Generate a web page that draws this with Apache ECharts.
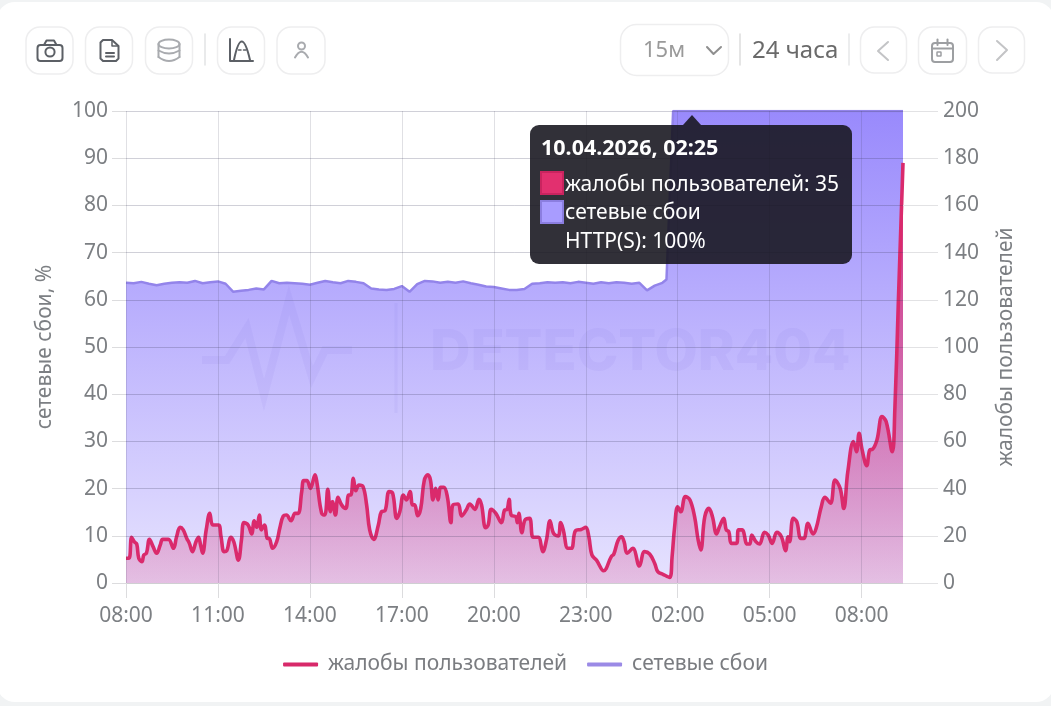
<!DOCTYPE html>
<html><head><meta charset="utf-8">
<style>html,body{margin:0;padding:0;background:#f1f3f4;overflow:hidden}#c{width:1051px;height:706px}</style>
<script src="https://cdn.jsdelivr.net/npm/echarts@6/dist/echarts.min.js"></script>
</head><body><div id="c"></div>
<script>
const tickMinutes=[0,180,360,540,720,900,1080,1260,1440];
const tickLabels=['08:00','11:00','14:00','17:00','20:00','23:00','02:00','05:00','08:00'];
const complaintMinutes=[0,6,11,16,21,25,31,35,40,46,53,60,67,72,83,93,99,106,112,119,124,130,137,142,146,150,157,164,170,181,186,192,197,205,211,220,226,231,239,246,251,256,261,265,271,277,280,287,295,301,308,314,323,331,337,344,348,354,361,370,374,383,389,395,400,404,410,415,422,430,436,440,445,450,456,464,471,477,485,494,500,507,515,522,530,536,543,549,556,561,565,571,577,584,591,596,601,606,611,616,622,629,636,640,650,657,666,673,683,691,696,704,709,715,724,735,741,746,750,754,763,766,769,775,781,790,797,807,816,823,830,837,846,851,856,865,872,880,891,900,906,912,921,935,950,955,963,970,975,981,992,1005,1015,1025,1035,1041,1051,1064,1069,1074,1080,1086,1095,1104,1113,1120,1125,1133,1141,1148,1156,1162,1170,1175,1180,1185,1195,1199,1206,1216,1221,1225,1233,1240,1250,1257,1265,1274,1283,1291,1296,1299,1306,1313,1321,1327,1335,1345,1351,1361,1368,1379,1388,1398,1405,1413,1424,1430,1435,1441,1450,1456,1461,1470,1480,1488,1500,1505,1512,1521];
const complaintValues=[10.5,10.5,19.4,17.5,16.5,10.5,9,11.9,12.6,18.5,15.4,12.6,16.1,18.5,18.5,14.7,19.6,23.6,22.5,18.9,16.8,13.3,17.5,19.4,16.1,12.6,22.5,29.5,24.6,24.6,19.6,13.3,13.6,19.4,17.5,9.7,18.2,25.6,24.6,20.8,26.4,23.6,28.8,22.5,24.6,18.9,18.9,14.7,17.5,23.2,28.4,28.8,26.4,29.5,29.5,38.7,43.4,43.4,40.1,45.8,42.2,29.5,28.8,39.7,30.2,34.5,28.8,36.3,33.1,31.6,37.3,37.3,44.4,39.1,41.5,40.8,33.1,22.5,18.5,24.6,30.2,30.6,38.7,38,27.4,30.2,37.3,35.2,38.7,33.1,33.1,28.5,31.6,43.6,45.8,43.6,35.2,40.1,35.2,40.5,40.5,36.6,25.6,33.1,33.5,28.4,30.9,33.5,31.2,35.5,33.1,23.4,24.6,31.2,29.5,25.6,30.9,31.2,35.5,28.8,28.1,25.6,29.5,21.3,26.7,27.4,19.4,19.4,13.3,18.2,26.4,21,19.9,25.6,22.5,14.7,14.7,22.2,22.7,23.6,19.6,11.9,9.7,5.2,11.2,12.3,17.9,19.6,17.5,12.6,14.7,7.2,13.3,12.3,8.3,4.8,3.7,2.4,11.2,23.9,32.3,30.2,36.6,35.2,28.1,18.2,14,28.1,31.6,28.1,20.8,23.9,27.4,22.5,21.8,16.8,16.8,22.5,22.5,16.5,16.5,20.3,17.5,16.5,21.5,20.3,16.8,21.5,19.6,13.7,19.6,17.5,27.4,26,18.9,18.9,25.3,20.8,23.2,32.3,36.3,33.8,43.6,40.1,31.6,47.2,59.9,55.6,63.4,56.4,49.7,56.4,56.6,60.6,70.5,68.4,55.6,73.3,119.9,178];
const outageMinutes=[0,15,30,45,60,75,90,105,120,135,150,165,180,195,210,225,240,255,270,285,300,315,330,345,360,375,390,405,420,435,450,465,480,495,510,525,540,555,570,585,600,615,630,645,660,675,690,705,720,735,750,765,780,795,810,825,840,855,870,885,900,915,930,945,960,975,990,1005,1020,1035,1050,1058,1071,1105,1521];
const outageValues=[63.6,63.5,63.8,63.4,63.1,63.4,63.6,63.7,63.6,64,63.5,63.7,63.9,63.4,61.7,61.9,62.1,62.4,62.2,64,63.5,63.6,63.5,63.4,63.2,63.6,64,63.7,63.5,64,63.8,63.5,62.4,62.2,62.1,62.3,62.9,61.7,63.3,64,63.9,63.6,63.8,63.6,63.9,63.5,63.2,62.8,62.7,62.4,62.1,62.1,62.3,63.4,63.5,63.7,63.6,63.7,63.5,63.8,63.6,63.4,63.7,63.5,63.7,63.6,63.4,63.6,62,63,63.6,64.3,100,100,100];
const hoverMinute=1105;
const complaintName='жалобы пользователей';
const outageName='сетевые сбои';
const leftName='сетевые сбои, %';
const FONT='"Noto Sans",sans-serif';
const zip=(a,b)=>a.map((x,i)=>[x,b[i]]);
const INK='#5c6066',PALE='#a9abaf',EDGE='#eeeeef';
const stroke=(c,w)=>({fill:'none',stroke:c,lineWidth:w,lineCap:'round',lineJoin:'round'});
const btn=(x,y,w,h,r)=>({type:'rect',silent:true,shape:{x,y,width:w,height:h,r},style:{fill:'#fff',stroke:EDGE,lineWidth:1.5}});
const pl=(p,c,w)=>({type:'polyline',silent:true,shape:{points:p},style:stroke(c,w||2)});
const ln=(a,b,c,d,col,w)=>({type:'line',silent:true,shape:{x1:a,y1:b,x2:c,y2:d},style:stroke(col,w||2)});
const rc=(x,y,w,h,r,col,lw)=>({type:'rect',silent:true,shape:{x,y,width:w,height:h,r},style:stroke(col,lw||2)});
const ci=(x,y,r,col,lw)=>({type:'circle',silent:true,shape:{cx:x,cy:y,r},style:stroke(col,lw||2)});
const bz=(a,b,cx,cy,c,d,col,w)=>({type:'bezierCurve',silent:true,shape:{x1:a,y1:b,x2:c,y2:d,cpx1:cx,cpy1:cy},style:stroke(col,w||2)});
const txt=(x,y,t,size,col,extra)=>({type:'text',silent:true,x,y,style:Object.assign({text:t,font:size+'px '+FONT,fill:col,textVerticalAlign:'middle',verticalAlign:'middle'},extra||{})});
const chrome=[
 btn(26,27,47,47,14),btn(85.5,27,47,47,14),btn(145.5,27,47,47,14),btn(217.5,27,47,47,14),btn(277,27,48,47,14),
 ln(205,34,205,65,'#e2e3e4',1.5),
 rc(37.5,45,25,16,3,INK),pl([[44,45],[46.5,40.5],[54,40.5],[56.5,45]],INK),ci(50,52,4.6,INK),
 pl([[112,40],[103,40],[100.5,42.5],[100.5,58.5],[103,61],[116,61],[118.5,58.5],[118.5,46],[112,40]],INK),pl([[112,40.5],[112,46],[118,46]],INK,1.5),ln(106,53,114,53,INK),ln(106,56.5,114,56.5,INK),
 {type:'ellipse',silent:true,shape:{cx:169,cy:44,rx:10.5,ry:4.5},style:stroke(PALE,2)},ln(158.5,44,158.5,57,PALE),ln(179.5,44,179.5,57,PALE),bz(158.5,50.5,169,56.5,179.5,50.5,PALE),bz(158.5,57,169,65,179.5,57,PALE),
 pl([[230,39],[230,61],[253,61]],INK),bz(234,60,241.5,23,250,60,INK),ln(238.5,50,241,50,INK,1.5),ln(243.5,50,246,50,INK,1.5),
 ci(301.5,46,3.5,PALE),bz(295,57.5,301.5,46,308,57.5,PALE),
 btn(620.5,24.5,108,51,16),
 txt(643,51,'15м',22,'#9a9a9a'),pl([[707,47],[713.5,54],[721,47]],'#8f8f8f'),
 ln(740,34,740,65,'#dcdddd',1.5),txt(752,51,'24 часа',24,'#6a6a6a'),ln(849,34,849,65,'#e6e7e8',1.5),
 btn(860.5,27,46,46,14),pl([[888,42],[878,51],[888,60]],'#c3c4c6'),
 btn(918.5,27,48,47,14),rc(932,43,21,19,3,'#9d9fa2'),ln(932,48.5,953,48.5,'#9d9fa2'),ln(937.5,39.5,937.5,45,'#9d9fa2'),ln(947.5,39.5,947.5,45,'#9d9fa2'),rc(937,52,4,4,0.5,'#9d9fa2',1.5),
 btn(978.5,27,46,46,14),pl([[997,41],[1007,50],[997,60]],'#c3c4c6')
];
const MARK='rgba(95,75,205,0.055)';
const watermark=[
 {type:'polyline',silent:true,z:2,shape:{points:[[202,360],[227,360],[247,328],[264,395],[289,300],[312,377],[325,350],[352,350]]},style:{fill:'none',stroke:MARK,lineWidth:8,lineJoin:'miter'}},
 {type:'rect',silent:true,z:2,shape:{x:394.5,y:303,width:3,height:110},style:{fill:MARK}},
 {type:'text',silent:true,z:2,x:430,y:353,style:{text:'DETECTOR404',font:'800 56px "Inter",sans-serif',fill:MARK,verticalAlign:'middle',textVerticalAlign:'middle'}}
];
const chart=echarts.init(document.getElementById('c'),null,{renderer:'canvas',width:1051,height:706});
const grey='#7c7f83';
const tooltipHtml=()=>`<div style="position:relative;width:322px;height:139px;background:rgba(24,22,32,.89);border-radius:9px;color:#fff;font-family:'Noto Sans',sans-serif;font-size:21px;line-height:27px;white-space:nowrap">
<div style="position:absolute;left:153px;top:-10px;width:0;height:0;border-left:9px solid transparent;border-right:9px solid transparent;border-bottom:10px solid rgba(24,22,32,.89)"></div>
<div style="position:absolute;left:11px;top:8px;font-weight:700;font-size:21.5px">10.04.2026, 02:25</div>
<div style="position:absolute;left:9.5px;top:46px;width:20px;height:20px;background:#e2306f;border:2px solid #c9245f"></div>
<div style="position:absolute;left:35px;top:45px">${complaintName}: 35</div>
<div style="position:absolute;left:9.5px;top:75px;width:20px;height:20px;background:#a89cff;border:2px solid #8b7ee0"></div>
<div style="position:absolute;left:35px;top:73px">${outageName}</div>
<div style="position:absolute;left:35px;top:102px">HTTP(S): 100%</div></div>`;
chart.setOption({
 animation:false,
 backgroundColor:'#f1f3f4',
 textStyle:{fontFamily:FONT},
 grid:{left:126,top:111,width:777,height:472,containLabel:false},
 legend:{show:true,selectedMode:false,data:[complaintName,outageName],top:649,left:'center',icon:'roundRect',itemWidth:35,itemHeight:4,itemGap:20,textStyle:{fontSize:21,color:'#7a7c80',fontFamily:FONT,padding:[0,0,0,5]}},
 tooltip:{show:true,trigger:'item',triggerOn:'none',alwaysShowContent:true,transitionDuration:0,showDelay:0,hideDelay:0,padding:0,borderWidth:0,backgroundColor:'transparent',extraCssText:'box-shadow:none;',position:[530,125],formatter:tooltipHtml},
 xAxis:{type:'value',min:0,max:1521,z:3,
  axisLine:{show:true,lineStyle:{color:'#cfcfd2',width:1}},
  axisTick:{show:true,length:15,customValues:tickMinutes,lineStyle:{color:'#dcdcde'}},
  axisLabel:{customValues:tickMinutes,margin:23,fontSize:21,color:grey,fontFamily:FONT,formatter:v=>tickLabels[tickMinutes.indexOf(v)]||''},
  splitLine:{show:true,lineStyle:{color:'rgba(60,60,90,0.16)',width:1}}},
 yAxis:[
  {type:'value',min:0,max:100,interval:10,name:leftName,nameLocation:'middle',nameGap:70,nameTextStyle:{fontSize:21,color:grey,fontFamily:FONT},z:3,
   axisLine:{show:false},axisTick:{show:true,length:14,lineStyle:{color:'#dcdcde'}},
   axisLabel:{margin:18,fontSize:21,color:grey,fontFamily:FONT},
   splitLine:{show:true,lineStyle:{color:'rgba(60,60,90,0.24)',width:1}}},
  {type:'value',min:0,max:200,interval:20,position:'right',name:complaintName,nameLocation:'middle',nameGap:93,nameTextStyle:{fontSize:21,color:grey,fontFamily:FONT},z:3,
   axisLine:{show:false},axisTick:{show:true,length:35,lineStyle:{color:'#e2e2e4'}},
   axisLabel:{margin:40,fontSize:21,color:grey,fontFamily:FONT},
   splitLine:{show:false}}
 ],
 series:[
  {name:outageName,type:'line',yAxisIndex:0,z:1,symbol:'circle',symbolSize:0,showSymbol:true,showAllSymbol:true,data:zip(outageMinutes,outageValues),
   lineStyle:{color:'#9384ea',width:2.5},itemStyle:{color:'#9b8ae6'},
   areaStyle:{opacity:1,color:new echarts.graphic.LinearGradient(0,0,0,1,[{offset:0,color:'rgba(142,125,252,0.9)'},{offset:1,color:'rgba(142,125,252,0.22)'}])}},
  {name:complaintName,type:'line',yAxisIndex:1,z:2,showSymbol:false,symbol:'none',smooth:0.4,data:zip(complaintMinutes,complaintValues),
   lineStyle:{color:'#da2a6c',width:3.6},itemStyle:{color:'#d8296a'},
   areaStyle:{opacity:1,color:new echarts.graphic.LinearGradient(0,0,0,1,[{offset:0,color:'rgba(220,40,110,0.95)'},{offset:1,color:'rgba(220,40,110,0.19)'}])}}
 ],
 graphic:{elements:[
  {type:'rect',silent:true,z:-10,shape:{x:-3,y:2,width:1057,height:700,r:18},style:{fill:'#fff'}},
  ...chrome,...watermark
 ]}
});
chart.dispatchAction({type:'showTip',seriesIndex:0,dataIndex:outageMinutes.indexOf(hoverMinute)});
</script></body></html>
